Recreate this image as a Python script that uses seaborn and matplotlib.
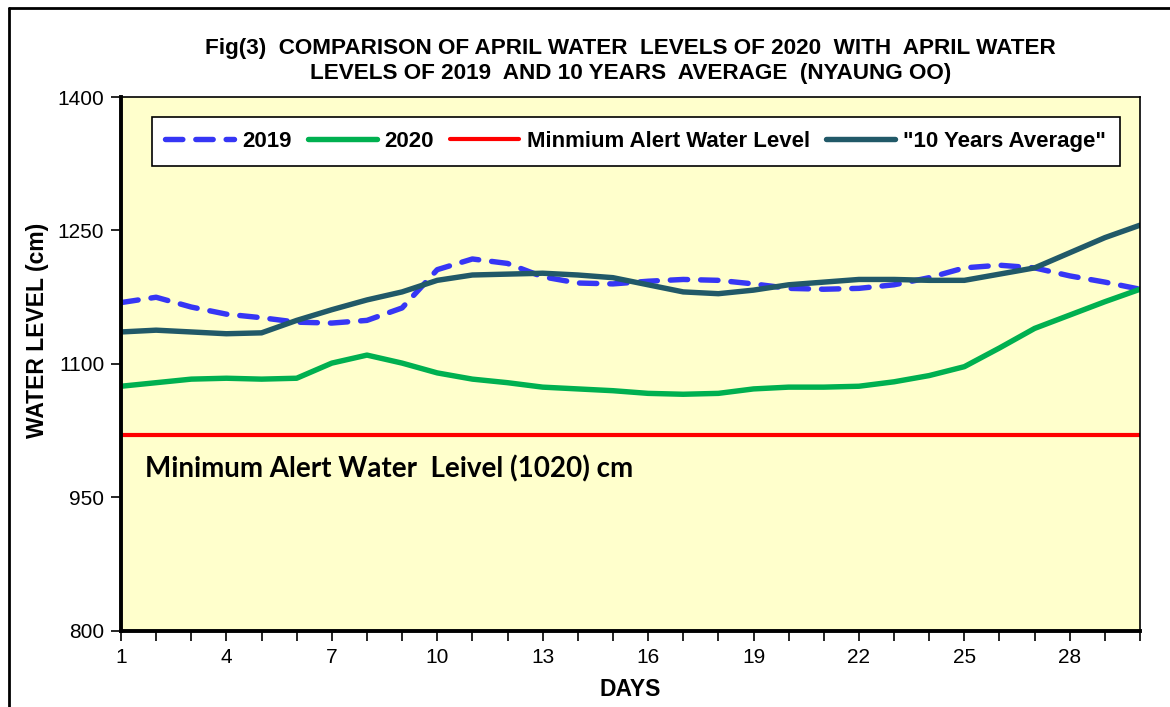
import numpy as np
import pandas as pd
import matplotlib
matplotlib.use('Agg')
import matplotlib.pyplot as plt
import seaborn as sns
from matplotlib.lines import Line2D
from matplotlib.ticker import MultipleLocator

# === Data ===
days = list(range(1, 31))
level_2019 = [1169, 1175, 1164, 1156, 1152, 1147, 1146, 1149, 1163, 1206,
              1218, 1213, 1198, 1191, 1190, 1193, 1195, 1194, 1190, 1185,
              1184, 1185, 1189, 1197, 1208, 1211, 1208, 1199, 1192, 1184]
level_2020 = [1075, 1079, 1083, 1084, 1083, 1084, 1101, 1110, 1101, 1090,
              1083, 1079, 1074, 1072, 1070, 1067, 1066, 1067, 1072, 1074,
              1074, 1075, 1080, 1087, 1097, 1118, 1140, 1155, 1170, 1184]
avg_10yr = [1136, 1138, 1136, 1134, 1135, 1149, 1161, 1172, 1181, 1194,
            1200, 1201, 1202, 1200, 1197, 1189, 1181, 1179, 1183, 1189,
            1192, 1195, 1195, 1194, 1194, 1201, 1208, 1225, 1242, 1256]
alert_level = 1020
x_ticks = [1, 4, 7, 10, 13, 16, 19, 22, 25, 28]
y_ticks = [800, 950, 1100, 1250, 1400]

df = pd.DataFrame({'Day': days, '2019': level_2019, '2020': level_2020,
                   '10yr': avg_10yr})

# === Style ===
sns.set_theme(style='white')
plt.rcParams['font.family'] = ['Liberation Sans', 'DejaVu Sans']
plt.rcParams['text.color'] = 'black'
plt.rcParams['axes.labelcolor'] = 'black'
plt.rcParams['xtick.color'] = 'black'
plt.rcParams['ytick.color'] = 'black'

fig = plt.figure(figsize=(11.7, 7.07), dpi=100)
ax = fig.add_axes([0.1034, 0.1075, 0.871, 0.7553])
ax.set_facecolor('#FFFFCC')

# === Lines ===
sns.lineplot(data=df, x='Day', y='2019', ax=ax, color='#3636F5', lw=3.9,
             dashes=False, label='2019')
ax.lines[-1].set_dashes((3.2, 2.4))
ax.lines[-1].set_dash_capstyle('round')
sns.lineplot(data=df, x='Day', y='2020', ax=ax, color='#00B050', lw=3.9,
             label='2020')
ax.axhline(alert_level, color='#FF0000', lw=3, label='Minmium Alert Water Level')
sns.lineplot(data=df, x='Day', y='10yr', ax=ax, color='#215968', lw=3.9,
             label='"10 Years Average"')

# === Axes ===
ax.set_xlim(1, 30)
ax.set_ylim(800, 1400)
ax.set_xticks(x_ticks)
ax.xaxis.set_minor_locator(MultipleLocator(1))
ax.set_yticks(y_ticks)
ax.tick_params(axis='both', which='major', direction='out', length=7,
               width=1.2, color='black', labelsize=15, pad=5,
               bottom=True, left=True)
ax.tick_params(axis='x', which='minor', direction='out', length=7,
               width=1.2, color='black', bottom=True)
for side in ['left', 'bottom']:
    ax.spines[side].set_linewidth(2.8)
    ax.spines[side].set_color('black')
for side in ['top', 'right']:
    ax.spines[side].set_linewidth(1.2)
    ax.spines[side].set_color('black')

ax.set_xlabel('DAYS', fontsize=16.5, fontweight='bold', labelpad=8)
ax.set_ylabel('WATER LEVEL (cm)', fontsize=16.5, fontweight='bold')
ax.yaxis.set_label_coords(-0.0707, 0.563)

ax.set_title('Fig(3)  COMPARISON OF APRIL WATER  LEVELS OF 2020  WITH  APRIL WATER\n'
             'LEVELS OF 2019  AND 10 YEARS  AVERAGE  (NYAUNG OO)',
             fontsize=16.2, fontweight='bold', pad=13, linespacing=1.25)

ax.text(1.68, 972, 'Minimum Alert Water  Leivel (1020) cm', fontsize=20,
        fontweight='bold', family='Lato', color='black', va='baseline')

# === Legend ===
leg = ax.legend(loc='upper left', bbox_to_anchor=(0.03, 0.9625),
                ncol=4, frameon=True, fancybox=False,
                borderaxespad=0, handlelength=3.1, handletextpad=0.36,
                borderpad=0.62, columnspacing=0.72,
                prop={'weight': 'bold', 'size': 16})
leg.get_frame().set_edgecolor('black')
leg.get_frame().set_linewidth(1.2)
leg.get_frame().set_facecolor('white')
leg.get_frame().set_alpha(1)

# === Outer frame ===
fig.add_artist(Line2D([0.0075, 0.0075], [0.0, 0.989], color='black', lw=2))
fig.add_artist(Line2D([0.0075, 1.0], [0.989, 0.989], color='black', lw=2))

fig.savefig('out.png', dpi=100, facecolor='white')
